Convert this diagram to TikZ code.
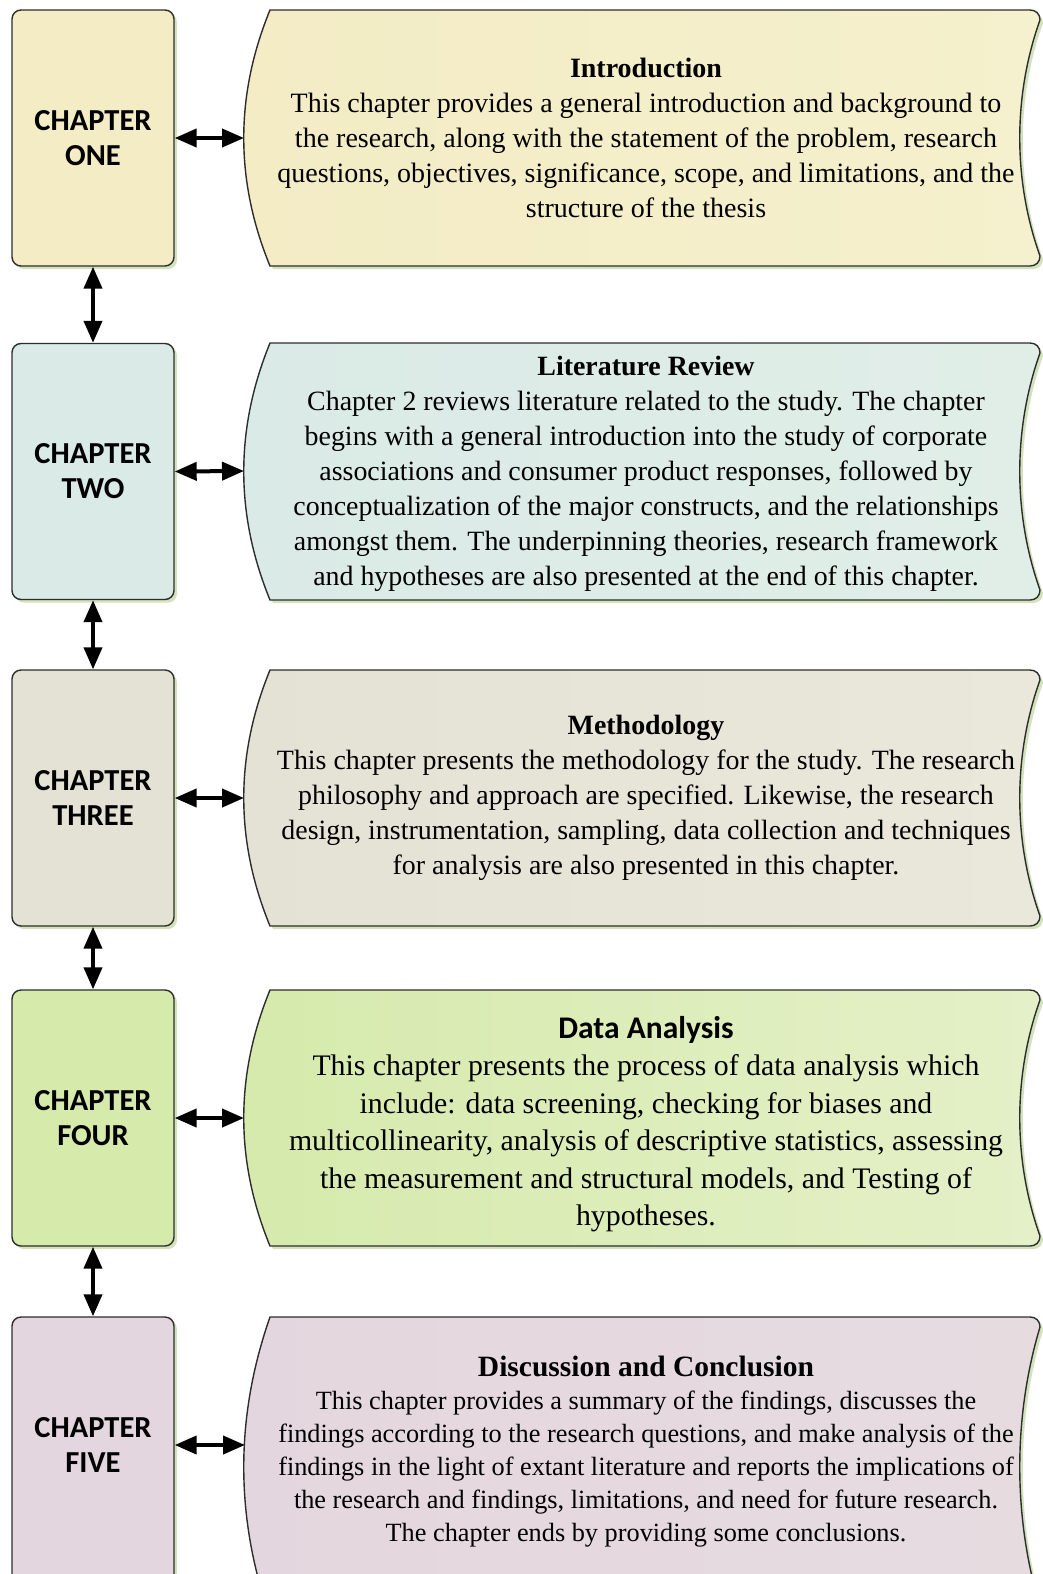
\documentclass[tikz,border=0pt]{standalone}
\usepackage{fontspec}
\setmainfont{Liberation Serif}
\newfontfamily\chapfont{Carlito}
\usetikzlibrary{arrows.meta,shadows}
\definecolor{cA}{RGB}{243,236,197}
\definecolor{cAr}{RGB}{245,240,205}
\definecolor{cB}{RGB}{218,234,230}
\definecolor{cBr}{RGB}{225,238,232}
\definecolor{cC}{RGB}{228,226,212}
\definecolor{cCr}{RGB}{233,232,218}
\definecolor{cD}{RGB}{214,234,172}
\definecolor{cDr}{RGB}{228,240,200}
\definecolor{cE}{RGB}{228,214,222}
\definecolor{cEr}{RGB}{230,220,224}
\definecolor{edge}{RGB}{45,45,45}
\definecolor{shad}{RGB}{190,215,160}
% #1 left colour, #2 right colour, #3 height
\newcommand\chshape[3]{%
  \draw[rshape,left color=#1,right color=#2]
    (270,0) -- (1030,0) .. controls (1036,0) and (1040,4) .. (1040,10)
    .. controls (1013,#3/3) and (1013,2*#3/3) .. (1040,#3-10)
    .. controls (1040,#3-4) and (1036,#3) .. (1030,#3)
    -- (270,#3) .. controls (235,2*#3/3) and (235,#3/3) .. (270,0) -- cycle;}
\begin{document}
\begin{tikzpicture}[x=1pt,y=-1pt,
  chapbox/.style={draw=edge,line width=1.4pt,rounded corners=9pt,
    minimum width=162pt,minimum height=256pt,inner sep=0pt,align=center,
    font=\chapfont\bfseries\fontsize{30.5}{35}\selectfont,
    drop shadow={shadow xshift=3pt,shadow yshift=-3pt,fill=shad,opacity=0.7}},
  rshape/.style={draw=edge,line width=1.4pt,
    drop shadow={shadow xshift=3pt,shadow yshift=-3pt,fill=shad,opacity=0.7}},
  desc/.style={align=center,inner sep=0pt},
  dbl/.style={line width=4pt,{Triangle[length=22pt,width=18pt]}-{Triangle[length=22pt,width=18pt]}}
]
\useasboundingbox (0,0) rectangle (1042,1574);
\fill[white] (0,0) rectangle (1042,1574);

% right shapes
\begin{scope}[shift={(0,10)}]\chshape{cA}{cAr}{256}\end{scope}
\begin{scope}[shift={(0,343)}]\chshape{cB}{cBr}{257}\end{scope}
\begin{scope}[shift={(0,670)}]\chshape{cC}{cCr}{256}\end{scope}
\begin{scope}[shift={(0,990)}]\chshape{cD}{cDr}{256}\end{scope}
\begin{scope}[shift={(0,1317)}]\chshape{cE}{cEr}{300}\end{scope}

\coordinate (r1) at (244,138);
\coordinate (r2) at (244,471);
\coordinate (r3) at (244,798);
\coordinate (r4) at (244,1118);
\coordinate (r5) at (245,1445);

% chapter boxes
\node[chapbox,fill=cA] (c1) at (93,138) {CHAPTER\\ONE};
\node[chapbox,fill=cB] (c2) at (93,471.5) {CHAPTER\\TWO};
\node[chapbox,fill=cC] (c3) at (93,798) {CHAPTER\\THREE};
\node[chapbox,fill=cD] (c4) at (93,1118) {CHAPTER\\FOUR};
\node[chapbox,fill=cE,minimum height=276pt,text depth=20pt] (c5) at (93,1455) {CHAPTER\\FIVE};

% descriptions
\node[desc,font=\fontsize{28}{35}\selectfont] (d1) at (646,138) {%
  \textbf{Introduction}\\
  This chapter provides a general introduction and background to\\
  the research, along with the statement of the problem, research\\
  questions, objectives, significance, scope, and limitations, and the\\
  structure of the thesis};
\node[desc,font=\fontsize{27.9}{35}\selectfont] (d2) at (646,474) {%
  \textbf{Literature Review}\\
  Chapter 2 reviews literature related to the study. The chapter\\
  begins with a general introduction into the study of corporate\\
  associations and consumer product responses, followed by\\
  conceptualization of the major constructs, and the relationships\\
  amongst them. The underpinning theories, research framework\\
  and hypotheses are also presented at the end of this chapter.};
\node[desc,font=\fontsize{27.9}{35}\selectfont] (d3) at (646,798) {%
  \textbf{Methodology}\\
  This chapter presents the methodology for the study. The research\\
  philosophy and approach are specified. Likewise, the research\\
  design, instrumentation, sampling, data collection and techniques\\
  for analysis are also presented in this chapter.};
\node[desc,font=\fontsize{29.8}{37.5}\selectfont] (d4) at (646,1124) {%
  {\chapfont\bfseries\fontsize{31.5}{37.5}\selectfont Data Analysis}\\
  This chapter presents the process of data analysis which\\
  include: data screening, checking for biases and\\
  multicollinearity, analysis of descriptive statistics, assessing\\
  the measurement and structural models, and Testing of\\
  hypotheses.};
\node[desc,font=\fontsize{26.3}{33}\selectfont] (d5) at (646,1452) {%
  {\fontsize{29.5}{33}\selectfont\textbf{Discussion and Conclusion}}\\
  This chapter provides a summary of the findings, discusses the\\
  findings according to the research questions, and make analysis of the\\
  findings in the light of extant literature and reports the implications of\\
  the research and findings, limitations, and need for future research.\\
  The chapter ends by providing some conclusions.};

% connectors
\draw[dbl] (c1.east) -- (r1);
\draw[dbl] (c2.east) -- (r2);
\draw[dbl] (c3.east) -- (r3);
\draw[dbl] (c4.east) -- (r4);
\draw[dbl] (c5.east |- r5) -- (r5);
\draw[dbl] (c1.south) -- (c2.north);
\draw[dbl] (c2.south) -- (c3.north);
\draw[dbl] (c3.south) -- (c4.north);
\draw[dbl] (c4.south) -- (c5.north);
\end{tikzpicture}
\end{document}
